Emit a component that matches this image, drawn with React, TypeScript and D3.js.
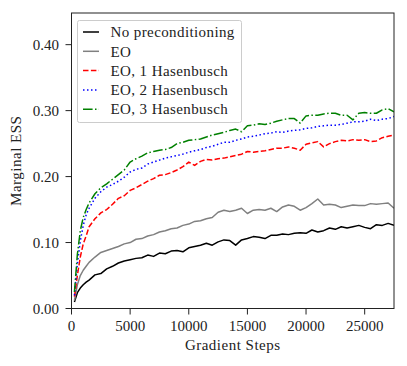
import React from 'react';
import * as d3 from 'd3';

// logging steps (denser at the start)
const steps = [250, 500, 750, 1000, 1250, 1500, ...d3.range(2000, 27501, 500)];

const noPrecond = [
  0.010, 0.024, 0.031, 0.036, 0.040, 0.043,
  0.051, 0.053, 0.060, 0.064, 0.069, 0.072, 0.074, 0.076, 0.077, 0.081,
  0.079, 0.084, 0.083, 0.087, 0.088, 0.086, 0.092, 0.094, 0.096, 0.099,
  0.096, 0.101, 0.104, 0.103, 0.096, 0.104, 0.106, 0.109, 0.108, 0.106,
  0.111, 0.111, 0.113, 0.112, 0.114, 0.115, 0.114, 0.119, 0.116, 0.118,
  0.122, 0.120, 0.124, 0.122, 0.124, 0.126, 0.123, 0.121, 0.127, 0.126,
  0.129, 0.126,
];

const eo = [
  0.012, 0.036, 0.050, 0.058, 0.064, 0.070,
  0.078, 0.085, 0.088, 0.091, 0.094, 0.098, 0.100, 0.105, 0.106, 0.110,
  0.112, 0.116, 0.118, 0.121, 0.122, 0.126, 0.128, 0.132, 0.133, 0.136,
  0.138, 0.146, 0.149, 0.147, 0.149, 0.152, 0.144, 0.149, 0.150, 0.149,
  0.152, 0.147, 0.154, 0.157, 0.155, 0.149, 0.153, 0.159, 0.166, 0.157,
  0.158, 0.157, 0.153, 0.155, 0.157, 0.156, 0.156, 0.159, 0.158, 0.159,
  0.160, 0.152,
];

const eoHb1 = [
  0.018, 0.050, 0.078, 0.098, 0.110, 0.124,
  0.136, 0.145, 0.150, 0.158, 0.167, 0.171, 0.179, 0.183, 0.188, 0.193,
  0.197, 0.202, 0.203, 0.206, 0.210, 0.215, 0.222, 0.217, 0.223, 0.226,
  0.225, 0.227, 0.228, 0.230, 0.232, 0.234, 0.238, 0.237, 0.238, 0.239,
  0.241, 0.243, 0.243, 0.245, 0.243, 0.240, 0.249, 0.251, 0.253, 0.245,
  0.250, 0.253, 0.255, 0.254, 0.256, 0.255, 0.256, 0.253, 0.254, 0.259,
  0.261, 0.263,
];

const eoHb2 = [
  0.020, 0.068, 0.102, 0.126, 0.142, 0.152,
  0.167, 0.177, 0.184, 0.188, 0.193, 0.199, 0.207, 0.211, 0.213, 0.219,
  0.222, 0.225, 0.228, 0.230, 0.232, 0.234, 0.237, 0.239, 0.241, 0.244,
  0.246, 0.249, 0.252, 0.252, 0.255, 0.257, 0.260, 0.261, 0.263, 0.265,
  0.266, 0.268, 0.267, 0.269, 0.270, 0.271, 0.273, 0.274, 0.276, 0.277,
  0.278, 0.278, 0.279, 0.281, 0.283, 0.283, 0.284, 0.287, 0.285, 0.287,
  0.288, 0.291,
];

const eoHb3 = [
  0.025, 0.082, 0.118, 0.138, 0.150, 0.160,
  0.174, 0.183, 0.189, 0.196, 0.203, 0.210, 0.222, 0.227, 0.231, 0.236,
  0.238, 0.240, 0.241, 0.244, 0.250, 0.252, 0.255, 0.256, 0.257, 0.260,
  0.263, 0.265, 0.267, 0.270, 0.272, 0.268, 0.277, 0.278, 0.280, 0.279,
  0.281, 0.284, 0.286, 0.288, 0.288, 0.281, 0.292, 0.293, 0.293, 0.295,
  0.296, 0.296, 0.293, 0.293, 0.286, 0.296, 0.297, 0.296, 0.296, 0.301,
  0.303, 0.298,
];

const seriesNames = ['No preconditioning', 'EO', 'EO, 1 Hasenbusch', 'EO, 2 Hasenbusch', 'EO, 3 Hasenbusch'];
const seriesValues = [noPrecond, eo, eoHb1, eoHb2, eoHb3];
const seriesColors = ['#000000', '#808080', '#ff0000', '#0000ff', '#008000'];
const seriesDashes = ['none', 'none', '5.5,2.4', '1.5,2.5', '9.6,2.4,1.5,2.4'];

const xTicks = [0, 5000, 10000, 15000, 20000, 25000];
const yTicks = [0, 0.1, 0.2, 0.3, 0.4];

const W = 407;
const H = 366;
const left = 71.5, right = 394, top = 13, bottom = 308.5;
const font = '"Liberation Serif", "DejaVu Serif", serif';

export default function App() {
  const x = d3.scaleLinear().domain([0, 27500]).range([left, right]);
  const y = d3.scaleLinear().domain([0, 0.448]).range([bottom, top]);

  const line = d3.line<[number, number]>()
    .x(d => x(d[0]))
    .y(d => y(d[1]));

  return (
    <svg width={W} height={H} style={{ position: 'absolute', left: 0, top: 0, background: '#fff' }}
      fontFamily={font}>
      <defs>
        <clipPath id="plotClip">
          <rect x={left} y={top} width={right - left} height={bottom - top} />
        </clipPath>
      </defs>

      <g clipPath="url(#plotClip)">
        {seriesValues.map((vals, i) => (
          <path key={i}
            d={line(steps.map((s, j) => [s, vals[j]] as [number, number])) || ''}
            fill="none"
            stroke={seriesColors[i]}
            strokeWidth={1.5}
            strokeDasharray={seriesDashes[i]}
            strokeLinejoin="round" />
        ))}
      </g>

      {/* frame */}
      <rect x={left} y={top} width={right - left} height={bottom - top}
        fill="none" stroke="#222" strokeWidth={1} />

      {/* x axis */}
      {xTicks.map(t => (
        <g key={t} transform={`translate(${x(t)},${bottom})`}>
          <line y1={0} y2={6} stroke="#222" strokeWidth={1} />
          <text y={22} textAnchor="middle" fontSize={15} fill="#222">{t}</text>
        </g>
      ))}
      <text x={(left + right) / 2} y={349.5} textAnchor="middle" fontSize={15} letterSpacing={0.5}
        fill="#222">Gradient Steps</text>

      {/* y axis */}
      {yTicks.map(t => (
        <g key={t} transform={`translate(${left},${y(t)})`}>
          <line x1={0} x2={-6} stroke="#222" strokeWidth={1} />
          <text x={-12.5} dy="0.35em" textAnchor="end" fontSize={15} fill="#222">{t.toFixed(2)}</text>
        </g>
      ))}
      <text transform={`translate(21,${(top + bottom) / 2}) rotate(-90)`} textAnchor="middle"
        fontSize={15} letterSpacing={0.5} fill="#222">Marginal ESS</text>

      {/* legend */}
      <rect x={77.5} y={20.5} width={164} height={102} rx={2} fill="#fff" fillOpacity={0.8}
        stroke="#cccccc" strokeWidth={1} />
      {seriesNames.map((name, i) => {
        const ly = 32 + i * 19.3;
        return (
          <g key={name}>
            <line x1={83} x2={99} y1={ly} y2={ly} stroke={seriesColors[i]} strokeWidth={1.5}
              strokeDasharray={seriesDashes[i]} />
            <text x={110.5} y={ly} dy="0.35em" fontSize={15} letterSpacing={0.4} fill="#222">{name}</text>
          </g>
        );
      })}
    </svg>
  );
}
